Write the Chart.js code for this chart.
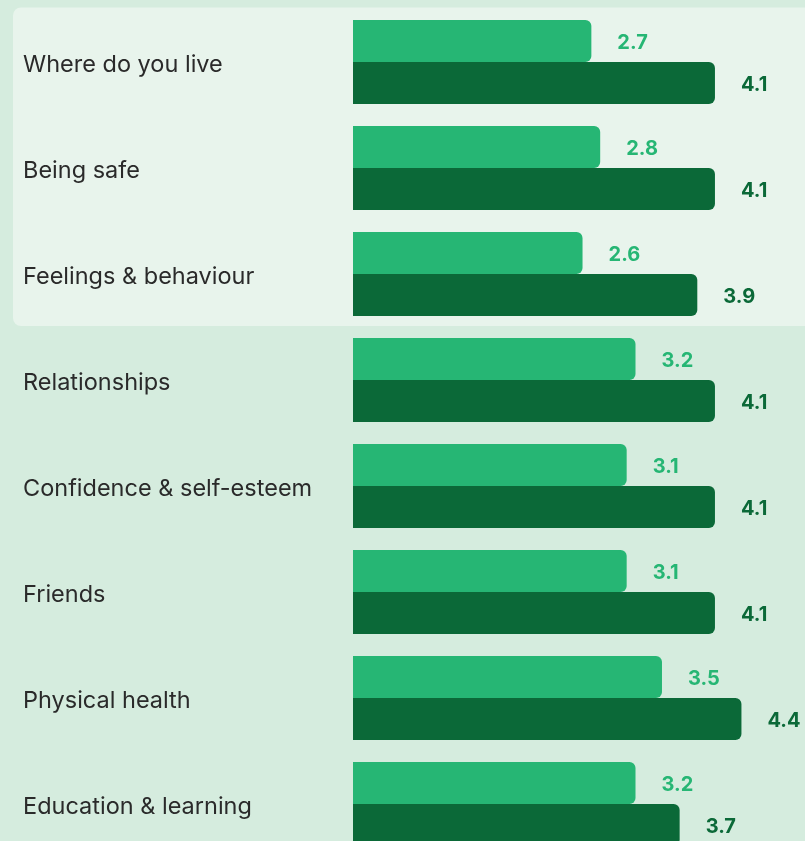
<!DOCTYPE html>
<html>
<head>
<meta charset="utf-8">
<script src="https://cdn.jsdelivr.net/npm/chart.js@4"></script>
<style>
  html, body { margin: 0; padding: 0; background: #d5ecde; overflow: hidden; }
  #wrap { width: 805px; height: 866px; }
</style>
</head>
<body>
<div id="wrap"><canvas id="c" width="805" height="866"></canvas></div>
<script>
"use strict";
// categories + two score series
const categories = ["Where do you live", "Being safe", "Feelings & behaviour", "Relationships",
  "Confidence & self-esteem", "Friends", "Physical health", "Education & learning"];
const lightScores = [2.7, 2.8, 2.6, 3.2, 3.1, 3.1, 3.5, 3.2];
const darkScores = [4.1, 4.1, 3.9, 4.1, 4.1, 4.1, 4.4, 3.7];
const highlighted = 3; // first N rows sit on the lighter panel

const PANEL = "#e8f4ec", LIGHT = "#26b674", DARK = "#0b6938", INK = "#2a2a2a";
const FONT = "Inter, 'Noto Sans', sans-serif";

// lighter rounded panel behind the first rows (drawn before axes and bars)
const panel = {
  id: "panel",
  beforeDraw(chart) {
    const y = chart.scales.y, ctx = chart.ctx;
    const band = y.getPixelForValue(1) - y.getPixelForValue(0);
    const top = y.getPixelForValue(0) - band / 2 - 1.5;
    const bot = y.getPixelForValue(highlighted - 1) + band / 2 - 1;
    ctx.save();
    ctx.fillStyle = PANEL;
    ctx.beginPath();
    ctx.roundRect(13, top, chart.width, bot - top, 8);
    ctx.fill();
    ctx.restore();
  },
};

// value labels right of each bar
const values = {
  id: "values",
  afterDatasetsDraw(chart) {
    const ctx = chart.ctx;
    ctx.save();
    ctx.textBaseline = "middle";
    ctx.textAlign = "left";
    chart.data.datasets.forEach((ds, i) => {
      const meta = chart.getDatasetMeta(i);
      ctx.font = "700 20px " + FONT;
      ctx.fillStyle = i === 0 ? LIGHT : DARK;
      meta.data.forEach((bar, j) => {
        ctx.fillText(ds.data[j].toFixed(1), bar.x + 26, bar.y + 1.5);
      });
    });
    ctx.restore();
  },
};

new Chart(document.getElementById("c"), {
  type: "bar",
  data: {
    labels: categories,
    datasets: [
      { label: "Light", data: lightScores, backgroundColor: LIGHT, borderRadius: 6, borderSkipped: "start",
        barPercentage: 1, categoryPercentage: 0.7925 },
      { label: "Dark", data: darkScores, backgroundColor: DARK, borderRadius: 6, borderSkipped: "start",
        barPercentage: 1, categoryPercentage: 0.7925 },
    ],
  },
  options: {
    indexAxis: "y",
    responsive: false,
    animation: false,
    layout: { padding: { left: 23, right: 0, top: 9, bottom: 9 } },
    scales: {
      x: { display: false, min: 0, max: 5.12 },
      y: {
        grid: { display: false }, border: { display: false },
        // small lineHeight keeps the label box from padding the chart area
        ticks: { crossAlign: "far", color: INK, font: { family: FONT, size: 23.5, lineHeight: 0.5 },
          padding: 0, labelOffset: 3 },
        afterFit(s) { s.width = 330; },
      },
    },
    plugins: { legend: { display: false }, tooltip: { enabled: false } },
  },
  plugins: [panel, values],
});
</script>
</body>
</html>
